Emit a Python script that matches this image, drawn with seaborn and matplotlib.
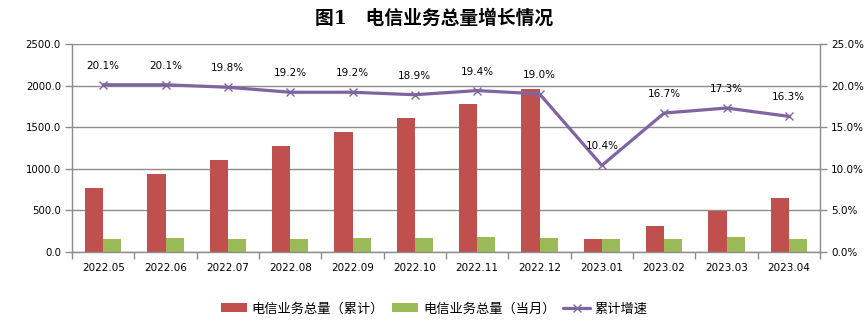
import matplotlib
matplotlib.use("Agg")
import matplotlib.pyplot as plt
import seaborn as sns
import pandas as pd
import numpy as np
from matplotlib.lines import Line2D
from matplotlib.ticker import FuncFormatter

months = ["2022.05", "2022.06", "2022.07", "2022.08", "2022.09", "2022.10",
          "2022.11", "2022.12", "2023.01", "2023.02", "2023.03", "2023.04"]
cumulative = [770, 940, 1105, 1275, 1440, 1610, 1780, 1960, 156, 312, 497, 650]
monthly = [156, 168, 156, 156, 168, 168, 180, 168, 156, 156, 180, 156]
growth = [20.1, 20.1, 19.8, 19.2, 19.2, 18.9, 19.4, 19.0, 10.4, 16.7, 17.3, 16.3]

s_cum = "电信业务总量（累计）"
s_mon = "电信业务总量（当月）"
s_gr = "累计增速"
title = "图1　电信业务总量增长情况"

RED = "#C0504D"
GREEN = "#9BBB59"
PURPLE = "#8064A2"
GRID = "#8C8C8C"

sns.set_theme(style="white")
plt.rcParams["font.family"] = ["DejaVu Sans", "Noto Sans CJK SC"]
plt.rcParams["text.color"] = "black"
plt.rcParams["xtick.color"] = "black"
plt.rcParams["ytick.color"] = "black"

df = pd.DataFrame({
    "month": months * 2,
    "value": cumulative + monthly,
    "series": [s_cum] * len(months) + [s_mon] * len(months),
})

fig = plt.figure(figsize=(8.68, 3.28), dpi=100)
ax = fig.add_axes([0.083, 0.2317, 0.8617, 0.6342])

sns.barplot(data=df, x="month", y="value", hue="series", order=months,
            hue_order=[s_cum, s_mon], palette=[RED, GREEN], width=0.58,
            gap=0, saturation=1, ax=ax, legend=False)
for p in ax.patches:
    p.set_edgecolor("none")

ax.set_ylim(0, 2500)
ax.set_yticks(np.arange(0, 2501, 500))
ax.yaxis.set_major_formatter(FuncFormatter(lambda v, _: f"{v:.1f}"))
ax.set_xlim(-0.5, len(months) - 0.5)
ax.set_xlabel("")
ax.set_ylabel("")
ax.grid(axis="y", color=GRID, linewidth=1)
ax.set_axisbelow(True)
for side in ["top", "right"]:
    ax.spines[side].set_visible(False)
for side in ["left", "bottom"]:
    ax.spines[side].set_color(GRID)
    ax.spines[side].set_linewidth(1)
ax.tick_params(axis="y", which="major", length=5, width=1, color=GRID,
               labelsize=7.3, pad=3, left=True, labelcolor="black")
ax.tick_params(axis="x", which="major", length=0, labelsize=7.5, pad=8, labelcolor="black")
ax.set_xticks(np.arange(len(months) + 1) - 0.5, minor=True)
ax.tick_params(axis="x", which="minor", length=5, width=1, color=GRID, bottom=True)

ax2 = ax.twinx()
sns.pointplot(x=months, y=growth, order=months, color=PURPLE, markers="x",
              linestyles="-", linewidth=2.3, markersize=6, ax=ax2)
for ln in ax2.get_lines():
    ln.set_markeredgewidth(1.0)
ax2.set_xlim(-0.5, len(months) - 0.5)
ax2.set_ylim(0, 25)
ax2.set_yticks(np.arange(0, 25.1, 5))
ax2.yaxis.set_major_formatter(FuncFormatter(lambda v, _: f"{v:.1f}%"))
ax2.set_ylabel("")
for side in ["top", "left", "bottom"]:
    ax2.spines[side].set_visible(False)
ax2.spines["right"].set_color(GRID)
ax2.spines["right"].set_linewidth(1)
ax2.tick_params(axis="y", length=5, width=1, color=GRID, labelsize=7.5, pad=3,
                right=True, labelcolor="black")
ax2.grid(False)

for i, v in enumerate(growth):
    ax2.annotate(f"{v:.1f}%", (i, v), xytext=(0, 19), textcoords="offset pixels",
                 ha="center", va="center", fontsize=7.5, color="black")

fig.text(0.5, 0.945, title, ha="center", va="center", fontsize=13.5,
         fontweight="bold", color="black",
         family=["DejaVu Serif", "Noto Sans CJK SC"])

handles = [
    plt.Rectangle((0, 0), 1, 1, facecolor=RED, edgecolor="none"),
    plt.Rectangle((0, 0), 1, 1, facecolor=GREEN, edgecolor="none"),
    Line2D([0], [0], color=PURPLE, linewidth=2.3, marker="x", markersize=6,
           markeredgewidth=1.0),
]
fig.legend(handles, [s_cum, s_mon, s_gr], loc="center", bbox_to_anchor=(0.5, 0.058),
           ncol=3, frameon=False, handlelength=2.0, handleheight=0.65,
           handletextpad=0.35, columnspacing=0.6,
           prop={"family": ["Noto Sans CJK SC", "DejaVu Sans"], "size": 9.5})

fig.savefig("out.png", dpi=100)
